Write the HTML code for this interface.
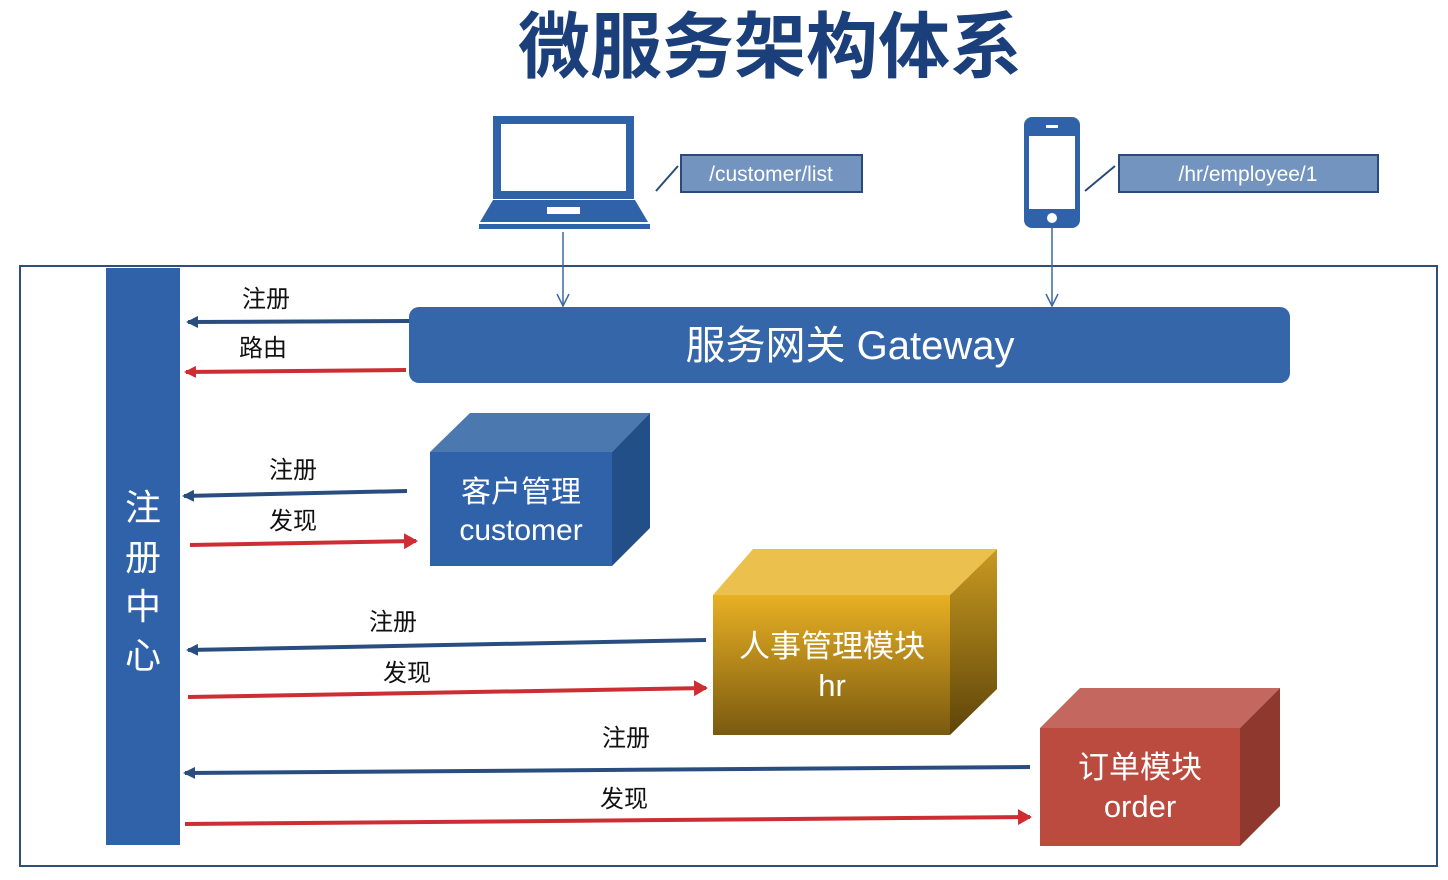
<!DOCTYPE html>
<html><head><meta charset="utf-8"><style>
html,body{margin:0;padding:0;background:#fff;}
svg{display:block;font-family:"Liberation Sans","Noto Sans CJK SC",sans-serif;}
</style></head><body>
<svg width="1448" height="880" viewBox="0 0 1448 880" xmlns="http://www.w3.org/2000/svg">
<defs>
<marker id="ab" markerWidth="12" markerHeight="12" refX="10" refY="6" orient="auto" markerUnits="userSpaceOnUse"><path d="M0,0 L12,6 L0,12 Z" fill="#2a4d80"/></marker>
<marker id="arl" markerWidth="12" markerHeight="12" refX="10" refY="6" orient="auto" markerUnits="userSpaceOnUse"><path d="M0,0 L12,6 L0,12 Z" fill="#cc2e34"/></marker>
<marker id="ar" markerWidth="14" markerHeight="16" refX="12" refY="8" orient="auto" markerUnits="userSpaceOnUse"><path d="M0,0 L14,8 L0,16 Z" fill="#cc2e34"/></marker>
<marker id="av" markerWidth="14" markerHeight="14" refX="13" refY="7" orient="auto" markerUnits="userSpaceOnUse"><path d="M1,1 L13,7 L1,13" fill="none" stroke="#3a68a8" stroke-width="1.5"/></marker>
<linearGradient id="gy" x1="0" y1="0" x2="0" y2="1"><stop offset="0" stop-color="#e8b024"/><stop offset="1" stop-color="#7a5a10"/></linearGradient>
<linearGradient id="gyr" x1="0" y1="0" x2="0" y2="1"><stop offset="0" stop-color="#c89a20"/><stop offset="1" stop-color="#5e440a"/></linearGradient>
</defs>
<text x="770" y="72" text-anchor="middle" font-size="72" font-weight="bold" fill="#1a3f7a">微服务架构体系</text>

<rect x="20" y="266" width="1417" height="600" fill="none" stroke="#2f4f7a" stroke-width="2"/>
<rect x="106" y="268" width="74" height="577" fill="#2f62a8"/>
<g fill="#fff" font-size="36" text-anchor="middle">
<text x="143" y="520">注</text><text x="143" y="570">册</text><text x="143" y="619">中</text><text x="143" y="668">心</text>
</g>

<!-- laptop -->
<rect x="497" y="120" width="133" height="75" fill="#fff" stroke="#2f62a8" stroke-width="8"/>
<path d="M493,200 L635,200 L648,222 L480,222 Z" fill="#2f62a8"/>
<rect x="547" y="207" width="33" height="7" fill="#fff"/>
<rect x="479" y="224" width="171" height="5" fill="#2f62a8"/>
<!-- phone -->
<rect x="1024" y="117" width="56" height="111" rx="8" fill="#2f62a8"/>
<rect x="1029" y="136" width="46" height="73" fill="#fff"/>
<rect x="1046" y="125" width="12" height="3" fill="#fff"/>
<circle cx="1052" cy="218" r="5" fill="#fff"/>

<line x1="656" y1="191" x2="678" y2="166" stroke="#2a4a7a" stroke-width="2"/>
<rect x="681" y="155" width="181" height="37" fill="#7494c0" stroke="#2a4a7a" stroke-width="2"/>
<text x="771" y="181" text-anchor="middle" fill="#fff" font-size="21">/customer/list</text>
<line x1="1085" y1="191" x2="1115" y2="166" stroke="#2a4a7a" stroke-width="2"/>
<rect x="1119" y="155" width="259" height="37" fill="#7494c0" stroke="#2a4a7a" stroke-width="2"/>
<text x="1248" y="181" text-anchor="middle" fill="#fff" font-size="21">/hr/employee/1</text>

<line x1="563" y1="232" x2="563" y2="306" stroke="#3a68a8" stroke-width="1.5" marker-end="url(#av)"/>
<line x1="1052" y1="228" x2="1052" y2="306" stroke="#3a68a8" stroke-width="1.5" marker-end="url(#av)"/>

<rect x="409" y="307" width="881" height="76" rx="10" fill="#3566aa"/>
<text x="850" y="359" text-anchor="middle" fill="#fff" font-size="40">服务网关 Gateway</text>

<!-- customer cube -->
<path d="M430,452 L470,413 L650,413 L612,452 Z" fill="#4b78ae"/>
<path d="M612,452 L650,413 L650,528 L612,566 Z" fill="#234f88"/>
<rect x="430" y="452" width="182" height="114" fill="#2f62a8"/>
<text x="521" y="502" text-anchor="middle" fill="#fff" font-size="30">客户管理</text>
<text x="521" y="540" text-anchor="middle" fill="#fff" font-size="30">customer</text>

<!-- hr cube -->
<path d="M713,595 L753,549 L997,549 L950,595 Z" fill="#ecc04c"/>
<path d="M950,595 L997,549 L997,689 L950,735 Z" fill="url(#gyr)"/>
<rect x="713" y="595" width="237" height="140" fill="url(#gy)"/>
<text x="832" y="657" text-anchor="middle" fill="#fff" font-size="31">人事管理模块</text>
<text x="832" y="696" text-anchor="middle" fill="#fff" font-size="31">hr</text>

<!-- order cube -->
<path d="M1040,728 L1080,688 L1280,688 L1240,728 Z" fill="#c4675e"/>
<path d="M1240,728 L1280,688 L1280,806 L1240,846 Z" fill="#8e382e"/>
<rect x="1040" y="728" width="200" height="118" fill="#bb4a3f"/>
<text x="1140" y="778" text-anchor="middle" fill="#fff" font-size="31">订单模块</text>
<text x="1140" y="817" text-anchor="middle" fill="#fff" font-size="31">order</text>

<!-- arrows -->
<g stroke-width="4" fill="none">
<line x1="409" y1="321" x2="188" y2="322" stroke="#2a4d80" marker-end="url(#ab)"/>
<line x1="406" y1="370" x2="186" y2="372" stroke="#cc2e34" marker-end="url(#arl)"/>
<line x1="407" y1="491" x2="184" y2="496" stroke="#2a4d80" marker-end="url(#ab)"/>
<line x1="190" y1="545" x2="416" y2="541" stroke="#cc2e34" marker-end="url(#ar)"/>
<line x1="706" y1="640" x2="188" y2="650" stroke="#2a4d80" marker-end="url(#ab)"/>
<line x1="188" y1="697" x2="706" y2="688" stroke="#cc2e34" marker-end="url(#ar)"/>
<line x1="1030" y1="767" x2="185" y2="773" stroke="#2a4d80" marker-end="url(#ab)"/>
<line x1="185" y1="824" x2="1030" y2="817" stroke="#cc2e34" marker-end="url(#ar)"/>
</g>
<g font-size="24" fill="#111" text-anchor="middle">
<text x="266" y="307">注册</text>
<text x="263" y="356">路由</text>
<text x="293" y="478">注册</text>
<text x="293" y="529">发现</text>
<text x="393" y="630">注册</text>
<text x="407" y="681">发现</text>
<text x="626" y="746">注册</text>
<text x="624" y="807">发现</text>
</g>
</svg>
</body></html>
